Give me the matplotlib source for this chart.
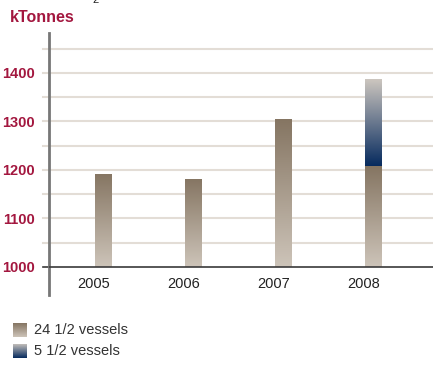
import numpy as np
import matplotlib.pyplot as plt
from matplotlib.colors import LinearSegmentedColormap

years = ["2005", "2006", "2007", "2008"]
vessels_24 = [1192, 1182, 1304, 1208]
vessels_5 = [0, 0, 0, 180]
base = 1000
yticks = [1000, 1100, 1200, 1300, 1400]

red = "#a3173f"
brown_cmap = LinearSegmentedColormap.from_list("brown", ["#cdc4b9", "#857562"])
blue_cmap = LinearSegmentedColormap.from_list("blue", ["#062a5e", "#cfc8c0"])

plt.rcParams['font.family'] = ['Liberation Sans', 'DejaVu Sans']

fig = plt.figure(figsize=(4.33, 3.65), dpi=100)
ax = fig.add_axes([49/433, 1 - 295/365, 384/433, 262/365])

grad = np.linspace(0, 1, 256).reshape(-1, 1)
x = np.arange(len(years))
w = 0.18


def grad_bar(xc, y0, y1, cmap):
    bar = ax.bar(xc, y1 - y0, bottom=y0, width=w, color="none", linewidth=0)[0]
    img = ax.imshow(grad, extent=[xc - w/2, xc + w/2, y0, y1], origin="lower",
                    aspect="auto", cmap=cmap, zorder=3)
    img.set_clip_path(bar)


for i in range(len(years)):
    grad_bar(x[i], base, vessels_24[i], brown_cmap)
    if vessels_5[i] > 0:
        grad_bar(x[i], vessels_24[i], vessels_24[i] + vessels_5[i], blue_cmap)

ax.set_xlim(-0.6, 3.67)
ax.set_ylim(942, 1482)

for v in np.arange(1050, 1460, 50):
    ax.axhline(v, color="#e3ddd6", lw=1.5, zorder=1)
    ax.plot([-0.67, -0.6], [v, v], color="#e3ddd6", lw=1.5, clip_on=False)
ax.axhline(base, color="#3a3a3a", lw=1.2, zorder=4)
ax.plot([-0.67, -0.6], [base, base], color="#3a3a3a", lw=1.2, clip_on=False)

for s in ["top", "right", "bottom"]:
    ax.spines[s].set_visible(False)
ax.spines["left"].set_color("#777777")
ax.spines["left"].set_linewidth(2)

ax.set_yticks(yticks)
ax.set_yticklabels([str(t) for t in yticks], color=red, fontsize=10.5, fontweight="bold")
ax.tick_params(axis="y", length=0, pad=10)
ax.set_xticks([])
for i, y in enumerate(years):
    ax.text(x[i] - 0.1, base - 35, y, ha="center", va="center", fontsize=10.5, color="#222222")

fig.text(10/433, 1 - 18/365, "kTonnes", color=red, fontsize=11.5, fontweight="bold", va="center")
fig.text(92/433, 1.0, "2", color="#222222", fontsize=8, va="center")

# legend
for j, (cmap, label) in enumerate([(brown_cmap, "24 1/2 vessels"), (blue_cmap, "5 1/2 vessels")]):
    top = 323 + j * 21
    lax = fig.add_axes([13/433, 1 - (top + 14)/365, 14/433, 14/365])
    lax.imshow(grad, origin="lower", aspect="auto", cmap=cmap)
    lax.axis("off")
    fig.text(34/433, 1 - (top + 7)/365, label, fontsize=10.5, color="#333333", va="center")

fig.savefig("out.png", dpi=100)
